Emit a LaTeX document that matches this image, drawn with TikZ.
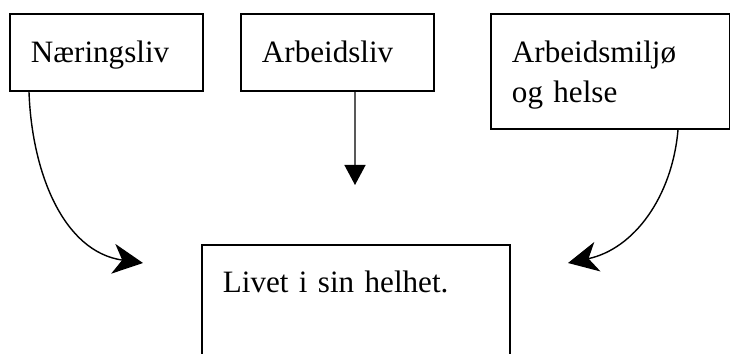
\documentclass[tikz,border=0pt]{standalone}
\usepackage{fontspec}
\setmainfont{Liberation Serif}
\usetikzlibrary{arrows.meta}
\begin{document}
\begin{tikzpicture}[thick, box/.style = {draw, line width=1.1pt, anchor=north west, inner xsep=0.42cm, inner ysep=0pt, align=left, font=\fontsize{17.7pt}{22.5pt}\selectfont, text height=0.98cm, text depth=0.56cm}, pil/.style = {line width=0.8pt, -{Stealth[length=0.6cm, width=0.6cm, inset=0.18cm]}}]
  \useasboundingbox (0,0) rectangle (14.6,-7.08);
  \node[box, text width=3.02cm] (1) at (0.18,-0.26) {Næringsliv};
  \node[box, text width=3.02cm] (2) at (4.80,-0.26) {Arbeidsliv};
  \node[box, text width=3.94cm, text depth=1.32cm] (3) at (9.80,-0.26) {Arbeidsmiljø\\og helse};
  \node[box, text width=5.32cm, text height=0.96cm, text depth=1.36cm] (4) at (4.02,-4.88) {Livet i sin helhet.};
  \coordinate (a) at (2.86,-5.26);
  \coordinate (b) at (7.10,-3.70);
  \coordinate (c) at (11.36,-5.26);
  \draw[pil] ([xshift=0.4cm]1.south west) to[out=-88, in=172] (a);
  \draw[line width=0.8pt, -{Triangle[length=0.4cm, width=0.42cm]}] ([xshift=2.3cm]2.south west) -- (b);
  \draw[pil] ([xshift=3.76cm]3.south west) to[out=-95, in=12] (c);
\end{tikzpicture}
\end{document}
